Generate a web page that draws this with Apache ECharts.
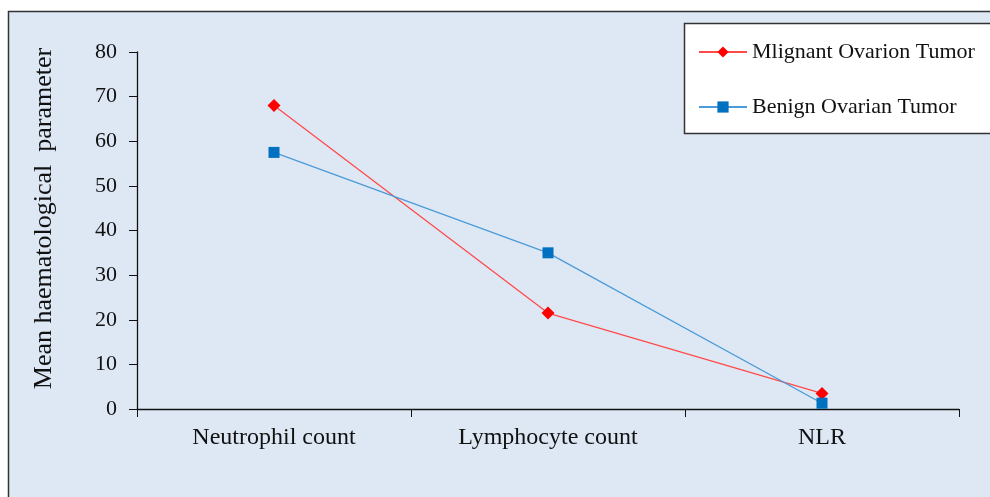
<!DOCTYPE html>
<html><head><meta charset="utf-8">
<script src="https://cdn.jsdelivr.net/npm/echarts@6/dist/echarts.min.js"></script>
<style>html,body{margin:0;padding:0;background:#fff}#c{width:990px;height:497px}</style>
</head><body><div id="c"></div>
<script>
const categories = ["Neutrophil count", "Lymphocyte count", "NLR"];
const malignant = [68.0, 21.5, 3.5];
const benign = [57.5, 35.0, 1.3];
const seriesNames = ["Mlignant Ovarion Tumor", "Benign Ovarian Tumor"];
const yTicks = [0, 80, 10];

const serif = '"Liberation Serif", "DejaVu Serif", serif';
const chart = echarts.init(document.getElementById('c'));
chart.setOption({
  animation: false,
  backgroundColor: '#ffffff',
  graphic: [
    {type: 'rect', shape: {x: 8.5, y: 11.5, width: 1000, height: 500}, style: {fill: '#dee8f5', stroke: '#333', lineWidth: 1.5}, z: -10},
    {type: 'rect', shape: {x: 684.5, y: 23.5, width: 320, height: 110}, style: {fill: '#ffffff', stroke: '#333', lineWidth: 1.5}, z: 0}
  ],
  grid: {left: 137, right: 31, top: 52, bottom: 88, containLabel: false},
  legend: {
    orient: 'vertical', left: 698, top: 41, padding: 0, itemGap: 33, itemWidth: 48, itemHeight: 14,
    textStyle: {fontFamily: serif, fontSize: 22, color: '#111'},
    data: seriesNames, z: 5
  },
  xAxis: {
    type: 'category', data: categories, boundaryGap: true,
    axisLine: {lineStyle: {color: '#111', width: 1.3}},
    axisTick: {show: true, length: 8, lineStyle: {color: '#111'}},
    axisLabel: {fontFamily: serif, fontSize: 24, color: '#111', margin: 17},
    splitLine: {show: false}
  },
  yAxis: {
    type: 'value', min: yTicks[0], max: yTicks[1], interval: yTicks[2],
    name: 'Mean haematological  parameter', nameLocation: 'middle', nameGap: 80,
    nameTextStyle: {fontFamily: serif, fontSize: 26, color: '#111', padding: [0, 0, 0, 24]},
    axisLine: {show: true, lineStyle: {color: '#111', width: 1.3}},
    axisTick: {show: true, inside: false, length: 8, lineStyle: {color: '#111'}},
    axisLabel: {fontFamily: serif, fontSize: 22, color: '#111', margin: 20},
    splitLine: {show: false}
  },
  series: [
    {name: seriesNames[0], type: 'line', data: malignant, symbol: 'diamond', symbolSize: 13,
     lineStyle: {color: '#ff4a4a', width: 1.3}, itemStyle: {color: '#ff0000'}, z: 3},
    {name: seriesNames[1], type: 'line', data: benign, symbol: 'rect', symbolSize: 11,
     lineStyle: {color: '#4b9bd8', width: 1.3}, itemStyle: {color: '#0070c0'}, z: 4}
  ]
});
</script></body></html>
